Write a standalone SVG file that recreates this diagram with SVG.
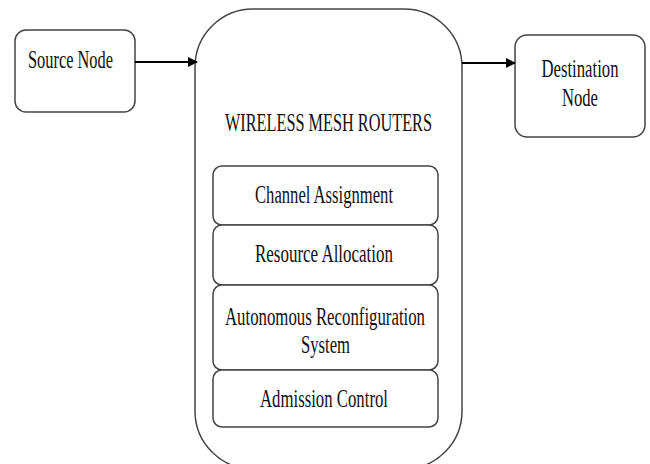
<svg xmlns="http://www.w3.org/2000/svg" width="650" height="464" viewBox="0 0 650 464">
<defs>
<style>
.box{fill:#fff;stroke:#444;stroke-width:1.5}
.t{font-family:"Liberation Serif","Times New Roman",serif;font-size:25px;fill:#111;text-anchor:middle}
.conn{stroke:#000;stroke-width:2;fill:none}
</style>
<marker id="arr" markerWidth="10" markerHeight="10" refX="9" refY="5" orient="auto" markerUnits="userSpaceOnUse">
<path d="M0,0 L10,5 L0,10 z" fill="#000"/>
</marker>
</defs>
<rect width="650" height="464" fill="#fff"/>
<g id="source">
<rect class="box" x="15" y="30" width="120" height="82" rx="11"/>
<text class="t" x="70.5" y="68" textLength="85" lengthAdjust="spacingAndGlyphs">Source Node</text>
</g>
<g id="routers">
<rect class="box" x="195" y="9" width="267" height="460" rx="58"/>
<text class="t" x="328.5" y="131" textLength="207" lengthAdjust="spacingAndGlyphs">WIRELESS MESH ROUTERS</text>
</g>
<g id="channel">
<rect class="box" x="213" y="166" width="225" height="59" rx="9"/>
<text class="t" x="324" y="203" textLength="138" lengthAdjust="spacingAndGlyphs">Channel Assignment</text>
</g>
<g id="resource">
<rect class="box" x="213" y="225" width="225" height="60" rx="9"/>
<text class="t" x="324" y="262" textLength="138" lengthAdjust="spacingAndGlyphs">Resource Allocation</text>
</g>
<g id="autonomous">
<rect class="box" x="213" y="285" width="225" height="85" rx="9"/>
<text class="t" x="325" y="325" textLength="200" lengthAdjust="spacingAndGlyphs">Autonomous Reconfiguration</text>
<text class="t" x="325.5" y="353" textLength="49" lengthAdjust="spacingAndGlyphs">System</text>
</g>
<g id="admission">
<rect class="box" x="213" y="370" width="225" height="57" rx="9"/>
<text class="t" x="324" y="407" textLength="128" lengthAdjust="spacingAndGlyphs">Admission Control</text>
</g>
<g id="destination">
<rect class="box" x="515" y="35" width="130" height="102" rx="12"/>
<text class="t" x="580" y="77" textLength="77" lengthAdjust="spacingAndGlyphs">Destination</text>
<text class="t" x="580" y="106" textLength="36" lengthAdjust="spacingAndGlyphs">Node</text>
</g>
<g id="connectors">
<line class="conn" x1="135" y1="62" x2="197" y2="62" marker-end="url(#arr)"/>
<line class="conn" x1="462" y1="63" x2="515" y2="63" marker-end="url(#arr)"/>
</g>
</svg>
